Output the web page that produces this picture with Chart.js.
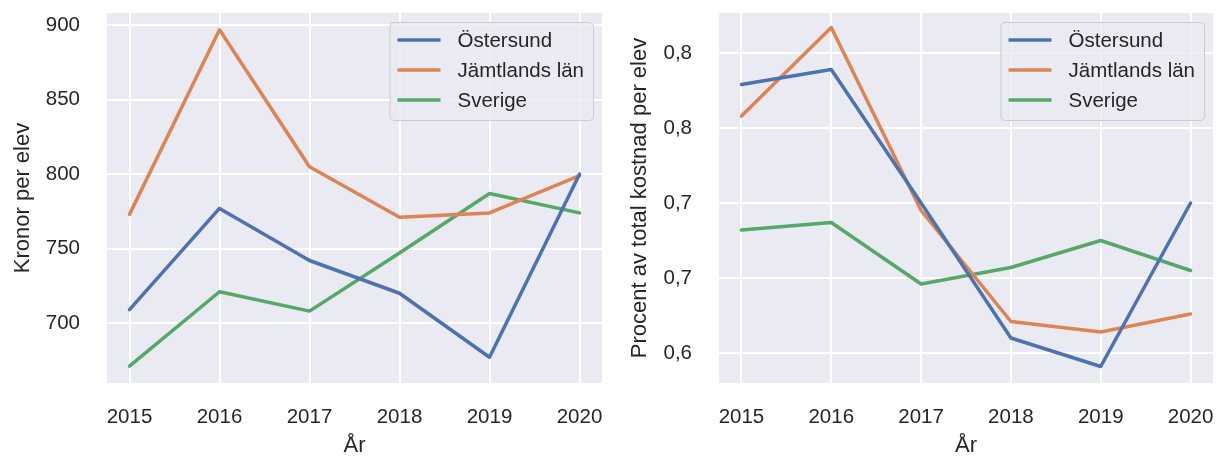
<!DOCTYPE html>
<html>
<head>
<meta charset="utf-8">
<script src="https://cdn.jsdelivr.net/npm/chart.js@4.4.1/dist/chart.umd.min.js"></script>
<style>
  html, body { margin: 0; padding: 0; background: #fff; }
  #left  { position: absolute; left: 0;     top: 0; width: 612px; height: 461px; }
  #right { position: absolute; left: 612px; top: 0; width: 605px; height: 461px; }
</style>
</head>
<body>
<div id="left"><canvas id="chartLeft"></canvas></div>
<div id="right"><canvas id="chartRight"></canvas></div>
<script>
// data
const years = [2015, 2016, 2017, 2018, 2019, 2020];
const seriesNames = ['Östersund', 'Jämtlands län', 'Sverige'];

const kronorOstersund = [709, 777, 742, 720, 677, 800];
const kronorJamtland  = [773, 897, 805, 771, 774, 799];
const kronorSverige   = [671, 721, 708, 747, 787, 774];

const procentOstersund = [0.779, 0.789, 0.700, 0.610, 0.591, 0.700];
const procentJamtland  = [0.758, 0.817, 0.695, 0.621, 0.614, 0.626];
const procentSverige   = [0.682, 0.687, 0.646, 0.657, 0.675, 0.655];

const kronorTicks = [700, 750, 800, 850, 900];
const kronorTickLabels = ['700', '750', '800', '850', '900'];
const procentTicks = [0.60, 0.65, 0.70, 0.75, 0.80];
const procentTickLabels = ['0,6', '0,7', '0,7', '0,8', '0,8'];

const colors = ['#4c72b0', '#dd8452', '#55a868'];

Chart.defaults.font.family = '"Liberation Sans", Arial, sans-serif';
Chart.defaults.font.size = 20.5;
Chart.defaults.color = '#262626';

const axesBackground = {
    id: 'axesBackground',
    beforeDraw(chart) {
        const { ctx, chartArea: a } = chart;
        ctx.save();
        ctx.fillStyle = '#eaeaf2';
        ctx.fillRect(a.left, a.top, a.right - a.left, a.bottom - a.top);
        ctx.restore();
    }
};

// matplotlib-style legend in the upper right corner of the axes
const insideLegend = {
    id: 'insideLegend',
    afterDatasetsDraw(chart) {
        const { ctx, chartArea: a } = chart;
        const sets = chart.data.datasets;
        ctx.save();
        ctx.font = '20.5px "Liberation Sans", Arial, sans-serif';
        const textW = Math.max(...sets.map(d => ctx.measureText(d.label).width));
        const w = 68 + textW + 9, h = 98;
        const x = a.right - 9 - w, y = a.top + 9;
        ctx.beginPath();
        ctx.roundRect(x + 0.5, y + 0.5, w, h, 4);
        ctx.fillStyle = 'rgba(234,234,242,0.8)';
        ctx.fill();
        ctx.strokeStyle = '#cccccc';
        ctx.lineWidth = 1;
        ctx.stroke();
        sets.forEach((d, i) => {
            const ry = y + 18 + i * 30;
            ctx.beginPath();
            ctx.moveTo(x + 8, ry);
            ctx.lineTo(x + 51, ry);
            ctx.strokeStyle = d.borderColor;
            ctx.lineWidth = 3.5;
            ctx.stroke();
            ctx.fillStyle = '#262626';
            ctx.textBaseline = 'middle';
            ctx.fillText(d.label, x + 68, ry + 1);
        });
        ctx.restore();
    }
};

function makeDatasets(seriesList) {
    return seriesList.map((vals, i) => ({
        label: seriesNames[i],
        data: years.map((yr, j) => ({ x: yr, y: vals[j] })),
        borderColor: colors[i],
        backgroundColor: colors[i],
        borderWidth: 3.5,
        borderCapStyle: 'round',
        borderJoinStyle: 'round',
        pointRadius: 0,
        tension: 0,
        fill: false
    }));
}

function makeOptions(yMin, yMax, yTicks, yLabels, yTitle, titlePad, rightPad) {
    return {
        responsive: true,
        maintainAspectRatio: false,
        animation: false,
        events: [],
        layout: { padding: { top: 13, right: rightPad, left: 0, bottom: 0 } },
        plugins: { legend: { display: false }, tooltip: { enabled: false } },
        scales: {
            x: {
                type: 'linear',
                min: 2014.75,
                max: 2020.25,
                afterBuildTicks: s => { s.ticks = years.map(v => ({ value: v })); },
                afterFit: s => { s.height = 78; s.paddingLeft = 0; s.paddingRight = 0; },
                ticks: { padding: 22, maxRotation: 0, callback: v => String(v) },
                grid: { color: '#ffffff', lineWidth: 2, drawTicks: false },
                border: { display: false },
                title: { display: true, text: 'År', font: { size: 22 }, padding: { top: 0, bottom: 2 } }
            },
            y: {
                min: yMin,
                max: yMax,
                afterBuildTicks: s => { s.ticks = yTicks.map(v => ({ value: v })); },
                afterFit: s => { s.width = 107; s.paddingTop = 0; s.paddingBottom = 0; },
                ticks: { padding: 27, callback: (v, i) => yLabels[i] },
                grid: { color: '#ffffff', lineWidth: 2, drawTicks: false },
                border: { display: false },
                title: { display: true, text: yTitle, font: { size: 22 }, padding: { top: titlePad, bottom: 0 } }
            }
        }
    };
}

new Chart(document.getElementById('chartLeft'), {
    type: 'line',
    data: { datasets: makeDatasets([kronorOstersund, kronorJamtland, kronorSverige]) },
    options: makeOptions(659.7, 908.3, kronorTicks, kronorTickLabels, 'Kronor per elev', 10, 10),
    plugins: [axesBackground, insideLegend]
});

new Chart(document.getElementById('chartRight'), {
    type: 'line',
    data: { datasets: makeDatasets([procentOstersund, procentJamtland, procentSverige]) },
    options: makeOptions(0.58, 0.8267, procentTicks, procentTickLabels, 'Procent av total kostnad per elev', 15, 4),
    plugins: [axesBackground, insideLegend]
});
</script>
</body>
</html>
